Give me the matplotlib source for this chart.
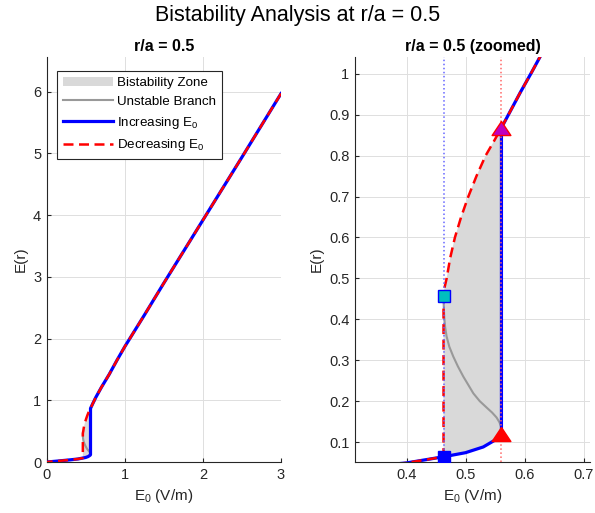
import numpy as np
import matplotlib
matplotlib.use("Agg")
from matplotlib import pyplot as plt
from matplotlib.patches import Patch
from matplotlib.lines import Line2D
from matplotlib.ticker import FuncFormatter

plt.rcParams['font.family'] = ['Liberation Sans', 'DejaVu Sans']
plt.rcParams['mathtext.fontset'] = 'custom'
plt.rcParams['mathtext.rm'] = 'Liberation Sans'
plt.rcParams['mathtext.it'] = 'Liberation Sans:italic'

# switching thresholds (V/m)
E_down = 0.4627
E_up = 0.5608

# lower (low-field) stable branch
low_E0 = [0.0, 0.1, 0.2, 0.3, 0.4, 0.4627, 0.5, 0.53, 0.5526, 0.558, 0.5608]
low_E = [0.0, 0.011, 0.023, 0.035, 0.049, 0.064, 0.074, 0.088, 0.107, 0.113, 0.120]

# upper (high-field) stable branch
up_E0 = [0.4627, 0.4640, 0.4680, 0.4740, 0.4820, 0.4925, 0.5047, 0.5185, 0.5340,
         0.5480, 0.5608, 0.5745, 0.5930, 0.6117, 0.6264, 0.70, 0.80, 0.90, 1.0,
         1.25, 1.5, 2.0, 2.5, 3.0]
up_E = [0.458, 0.475, 0.500, 0.550, 0.600, 0.650, 0.700, 0.750, 0.800,
        0.835, 0.868, 0.905, 0.955, 1.003, 1.042, 1.21, 1.42, 1.65, 1.87,
        2.38, 2.90, 3.92, 4.94, 5.97]

# unstable middle branch
mid_E0 = [0.4627, 0.4629, 0.4634, 0.4642, 0.4655, 0.4679, 0.4725, 0.4792, 0.4870,
          0.4962, 0.5045, 0.5132, 0.5240, 0.5359, 0.5450, 0.5525, 0.5575, 0.5600]
mid_E = [0.458, 0.440, 0.420, 0.400, 0.380, 0.358, 0.333, 0.309, 0.285,
         0.260, 0.240, 0.219, 0.200, 0.184, 0.172, 0.160, 0.148, 0.138]

low_E0 = np.array(low_E0); low_E = np.array(low_E)
up_E0 = np.array(up_E0); up_E = np.array(up_E)

# sweep up: lower branch, jump at E_up, then upper branch
m = up_E0 >= E_up
inc_x = np.concatenate([low_E0, up_E0[m]])
inc_y = np.concatenate([low_E, up_E[m]])
# sweep down: upper branch, drop at E_down, then lower branch
m2 = low_E0 <= E_down
dec_x = np.concatenate([up_E0[::-1], low_E0[m2][::-1]])
dec_y = np.concatenate([up_E[::-1], low_E[m2][::-1]])

# bistable zone polygon
zl = (low_E0 >= E_down) & (low_E0 <= E_up)
zu = (up_E0 >= E_down) & (up_E0 <= E_up)
zone_x = np.concatenate([low_E0[zl], up_E0[zu][::-1]])
zone_y = np.concatenate([low_E[zl], up_E[zu][::-1]])

E_low_fold = low_E[low_E0 == E_down][0]
E_low_jump = low_E[-1]
E_up_fold = up_E[0]
E_up_jump = up_E[up_E0 == E_up][0]

gray_fill = (0.85, 0.85, 0.85)
gray_line = (0.6, 0.6, 0.6)
ax_col = (0.15, 0.15, 0.15)

fig = plt.figure(figsize=(5.95, 5.13), dpi=100)
ax1 = fig.add_axes([0.0785, 0.0994, 0.3938, 0.790])
ax2 = fig.add_axes([0.5966, 0.0994, 0.395, 0.790])


def draw(ax):
    ax.fill(zone_x, zone_y, color=gray_fill, lw=0, zorder=1)
    ax.plot(mid_E0, mid_E, color=gray_line, lw=1.5, zorder=2)
    ax.plot(inc_x, inc_y, color='b', lw=2.3, zorder=3)
    ax.plot(dec_x, dec_y, color='r', lw=1.8, dashes=(4, 2.2), zorder=4)


def style(ax):
    ax.grid(True, color=(0.87, 0.87, 0.87), lw=0.7)
    ax.set_axisbelow(True)
    for s in ['top', 'right']:
        ax.spines[s].set_visible(False)
    for s in ['left', 'bottom']:
        ax.spines[s].set_color(ax_col)
        ax.spines[s].set_linewidth(0.8)
    ax.tick_params(direction='in', length=3, width=0.8, colors=ax_col,
                   labelsize=10.5, pad=4)
    ax.xaxis.set_major_formatter(FuncFormatter(lambda v, p: f'{v:g}'))
    ax.yaxis.set_major_formatter(FuncFormatter(lambda v, p: f'{v:g}'))
    ax.set_xlabel(r'$\mathregular{E_0}$ (V/m)', fontsize=11, color=ax_col, labelpad=4)
    ax.set_ylabel('E(r)', fontsize=11, color=ax_col, labelpad=4)


# left: full sweep
draw(ax1)
ax1.set_xlim(0, 3)
ax1.set_ylim(0, 1.1 * up_E.max())
ax1.set_xticks([0, 1, 2, 3])
ax1.set_yticks([0, 1, 2, 3, 4, 5, 6])
style(ax1)
ax1.set_title('r/a = 0.5', fontsize=11.5, fontweight='bold', pad=4)
handles = [Patch(facecolor=gray_fill, edgecolor='none'),
           Line2D([], [], color=gray_line, lw=1.5),
           Line2D([], [], color='b', lw=2.3),
           Line2D([], [], color='r', lw=1.8, dashes=(4, 2.2))]
labels = ['Bistability Zone', 'Unstable Branch',
          r'Increasing $\mathregular{E_0}$', r'Decreasing $\mathregular{E_0}$']
leg = ax1.legend(handles, labels, loc='upper left', bbox_to_anchor=(0.0427, 0.9655),
                 borderaxespad=0, fontsize=9.6, handlelength=3.8, handletextpad=0.3,
                 labelspacing=0.5, borderpad=0.45, fancybox=False, framealpha=1)
leg.get_frame().set_edgecolor(ax_col)
leg.get_frame().set_linewidth(0.8)

# right: zoom on the hysteresis loop
draw(ax2)
ax2.axvline(E_down, color=(0.4, 0.4, 1.0), ls=':', lw=1.1, zorder=5)
ax2.axvline(E_up, color=(1.0, 0.4, 0.4), ls=':', lw=1.1, zorder=5)
tri = [(0, 0.75), (-1, -0.75), (1, -0.75), (0, 0.75)]
ax2.plot(E_down, E_low_fold, 's', ms=9, color='b', mec='b', zorder=6)
ax2.plot(E_down, E_up_fold, 's', ms=9, color='c', mec='b', mew=1, zorder=6)
ax2.plot(E_up, E_low_jump, marker=tri, ms=13.5, color='r', mec='r', ls='none', zorder=6)
ax2.plot(E_up, E_up_jump, marker=tri, ms=13.5, color='m', mec='r', ls='none', zorder=6)
ax2.set_xlim(E_down - 0.15, E_up + 0.15)
ax2.set_ylim(0.8 * E_low_fold, 1.2 * E_up_jump)
ax2.set_xticks([0.4, 0.5, 0.6, 0.7])
ax2.set_yticks(np.round(np.arange(0.1, 1.01, 0.1), 1))
style(ax2)
ax2.set_title('r/a = 0.5 (zoomed)', fontsize=11.5, fontweight='bold', pad=4)

fig.suptitle('Bistability Analysis at r/a = 0.5', fontsize=15.5, y=0.99)

fig.savefig('out.png', dpi=100)
